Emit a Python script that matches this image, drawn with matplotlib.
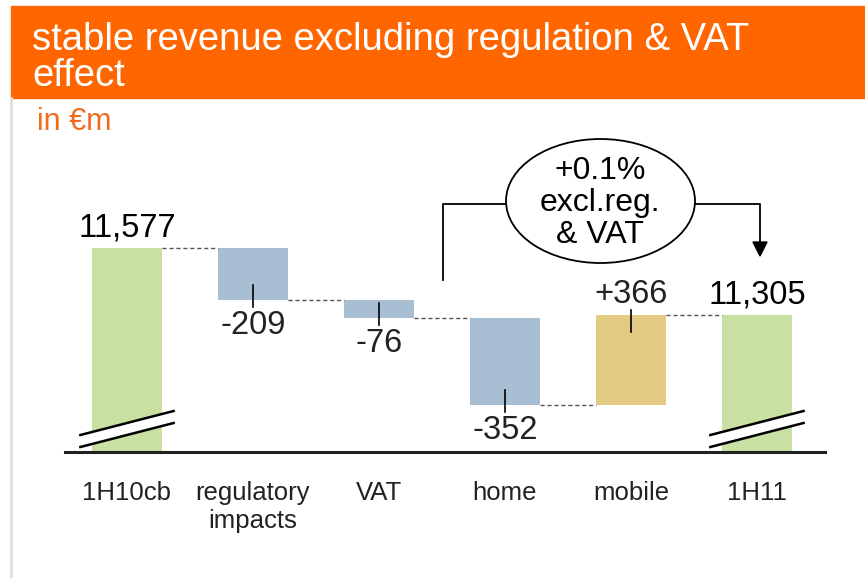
import matplotlib.pyplot as plt
from matplotlib.patches import Ellipse, Rectangle, Polygon

categories = ["1H10cb", "regulatory\nimpacts", "VAT", "home", "mobile", "1H11"]
deltas = [-209, -76, -352, 366]
start_total = 11577
end_total = 11305
labels = ["11,577", "-209", "-76", "-352", "+366", "11,305"]

green = "#C9E0A3"
blue = "#A8BFD3"
gold = "#E3CB84"
orange = "#FF6600"

plt.rcParams["font.family"] = ["Liberation Sans", "DejaVu Sans"]

fig = plt.figure(figsize=(8.65, 5.78), dpi=100)

# page decoration (pixel coords)
deco = fig.add_axes([0, 0, 1, 1])
deco.set_xlim(0, 865)
deco.set_ylim(578, 0)
deco.axis("off")
deco.add_patch(Rectangle((11, 6), 860, 92, color=orange))
deco.plot([11, 11], [98, 578], color="#DDDDDD", lw=2)
deco.text(32, 50, "stable revenue excluding regulation & VAT", color="white",
          fontsize=27.5, va="baseline")
deco.text(32, 86, "effect", color="white", fontsize=27.5, va="baseline")
deco.text(37, 122, "in €m", color="#F26A1B", fontsize=22, va="center")

# main waterfall
ax = fig.add_axes([65 / 865, 1 - 452 / 578, 760 / 865, 312 / 578])
ybase = 10751
ax.set_xlim(-0.492, 5.54)
ax.set_ylim(ybase, ybase + 312 * 4.05)
ax.axis("off")
w = 0.556
upp = 4.05  # value units per pixel

levels = [start_total]
for d in deltas:
    levels.append(levels[-1] + d)

ax.bar(0, start_total - ybase, bottom=ybase, width=w, color=green)
ax.bar(5, end_total - ybase, bottom=ybase, width=w, color=green)
for i, d in enumerate(deltas):
    x = i + 1
    lo = min(levels[i], levels[i + 1])
    ax.bar(x, abs(d), bottom=lo, width=w, color=gold if d > 0 else blue)
    end = levels[i + 1]
    if d < 0:
        ax.plot([x, x], [end - 7 * upp, end + 15 * upp], color="black", lw=1.2)
        ax.text(x, end - 10 * upp, labels[x], ha="center", va="top",
                fontsize=23.5, color="#222222")
    else:
        ax.plot([x, x], [end + 5 * upp, end - 17 * upp], color="black", lw=1.2)
        ax.text(x, end + 5 * upp, labels[x], ha="center", va="bottom",
                fontsize=23.5, color="#222222")

# dashed connectors
conn = levels[:4] + [end_total]
for i in range(5):
    ax.plot([i + w / 2, i + 1 - w / 2], [conn[i], conn[i]], color="#555555",
            lw=1, ls=(0, (3, 2)))

ax.text(0, start_total + 5 * upp, labels[0], ha="center", va="bottom", fontsize=23.5)
ax.text(5, end_total + 5 * upp, labels[5], ha="center", va="bottom", fontsize=23.5)

# axis break marks on totals
for x in (0, 5):
    pts = [(x - 0.37, ybase + 17 * upp), (x + 0.37, ybase + 41 * upp),
           (x + 0.37, ybase + 29 * upp), (x - 0.37, ybase + 5 * upp)]
    ax.add_patch(Polygon(pts, closed=True, color="white", zorder=3))
    ax.plot([pts[0][0], pts[1][0]], [pts[0][1], pts[1][1]], color="black", lw=1.8, zorder=4)
    ax.plot([pts[3][0], pts[2][0]], [pts[3][1], pts[2][1]], color="black", lw=1.8, zorder=4)

ax.plot([-0.492, 5.54], [ybase, ybase], color="#222222", lw=2.2, clip_on=False)

for i, c in enumerate(categories):
    ax.text(i, ybase - 29 * upp, c, ha="center", va="top", fontsize=18.5,
            color="#222222", linespacing=1.2)

# bracket + ellipse callout
deco.plot([443, 443, 506], [280, 204, 204], color="black", lw=1.3)
deco.plot([695, 760, 760], [204, 204, 245], color="black", lw=1.3)
deco.add_patch(Polygon([(753, 242), (767, 242), (760, 256)], closed=True, color="black"))
deco.add_patch(Ellipse((600.5, 201), 189, 124, fill=False, ec="black", lw=1.3))
for txt, yy in (("+0.1%", 171), ("excl.reg.", 203), ("& VAT", 235)):
    deco.text(600, yy, txt, ha="center", va="center", fontsize=23)

fig.savefig("out.png", dpi=100)
